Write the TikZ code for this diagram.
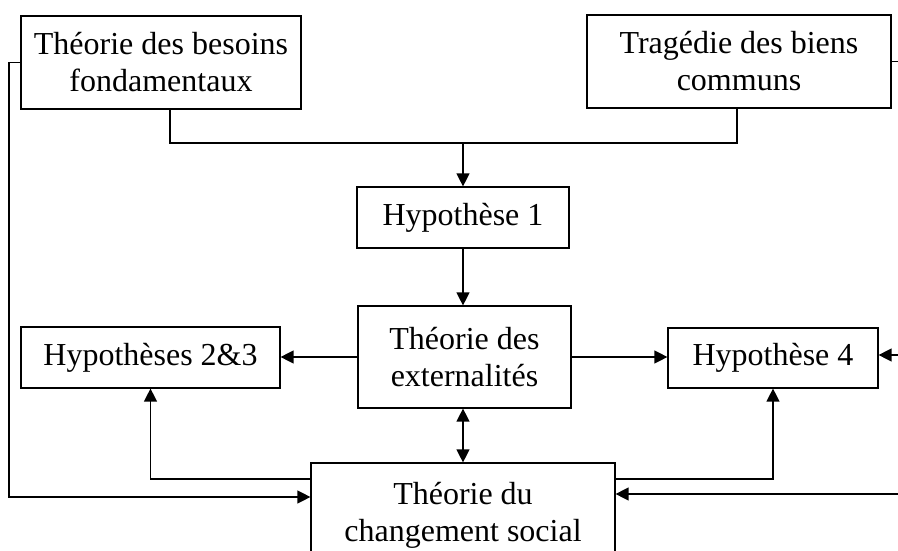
\documentclass[tikz,border=0pt]{standalone}
\usepackage{fontspec}
\setmainfont{Liberation Serif}
\usetikzlibrary{arrows.meta}
\begin{document}
\begin{tikzpicture}[x=1pt,y=-1pt,
  box/.style={draw,line width=1.2pt,inner sep=0pt,align=center,
    font=\fontsize{32}{37}\selectfont},
  conn/.style={line width=1.3pt},
  arr/.style={conn,-{Triangle[length=13pt,width=13pt]}},
  darr/.style={conn,{Triangle[length=13pt,width=13pt]}-{Triangle[length=13pt,width=13pt]}}]
\useasboundingbox (0,0) rectangle (898,551);
\clip (0,0) rectangle (898,551);
\node[box,minimum width=280pt,minimum height=93pt] (b1) at (161,62.5) {Théorie des besoins\\fondamentaux};
\node[box,minimum width=304pt,minimum height=93pt] (b2) at (739,61.5) {Tragédie des biens\\communs};
\node[box,minimum width=212pt,minimum height=61pt] (h1) at (463,217.5) {Hypothèse 1};
\node[box,minimum width=213pt,minimum height=102pt] (ext) at (464.5,357) {Théorie des\\externalités};
\node[box,minimum width=259pt,minimum height=61pt] (h23) at (150.5,357.5) {Hypothèses 2\&3};
\node[box,minimum width=210pt,minimum height=60pt] (h4) at (773,358) {Hypothèse 4};
\node[box,minimum width=304pt,minimum height=104pt] (soc) at (463,515) {Théorie du\\changement social};
\coordinate (m1) at (170,143);
\coordinate (m2) at (737,143);
\coordinate (s1) at (151,479);
\coordinate (L) at (9,497);
\coordinate (R) at (904,494);
\coordinate (R2) at (904,355);
\draw[conn] (b1.south -| m1) -- (m1) -- (m2) -- (b2.south -| m2);
\draw[arr] (h1.north |- m1) -- (h1.north);
\draw[arr] (h1.south) -- (h1.south |- ext.north);
\draw[arr] (ext.west) -- (h23.east |- ext.west);
\draw[arr] (ext.east) -- (h4.west |- ext.east);
\draw[darr] (ext.south -| soc.north) -- (soc.north);
\draw[arr] (soc.west |- s1) -| (h23.south);
\draw[arr] (soc.east |- s1) -| (h4.south);
\draw[arr] (b1.west) -| (L) -- (soc.west |- L);
\draw[arr] (b2.east) -| (R) -- (soc.east |- R);
\draw[arr] (R2) -- (h4.east |- R2);
\end{tikzpicture}
\end{document}
